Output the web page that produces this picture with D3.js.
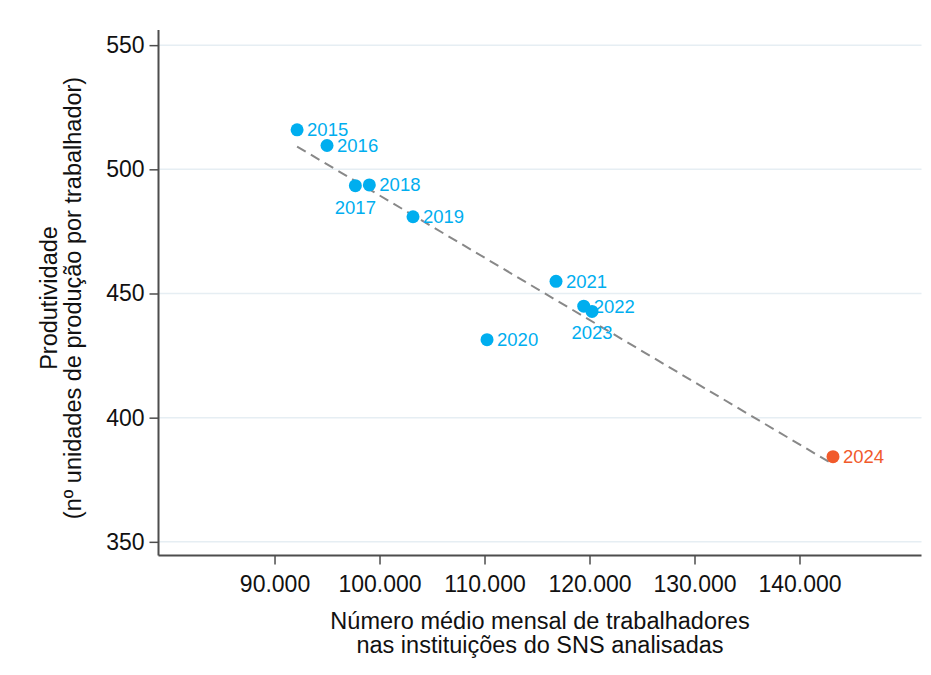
<!DOCTYPE html>
<html lang="pt">
<head>
    <meta charset="UTF-8">
    <title>Produtividade vs trabalhadores</title>
    <script src="https://d3js.org/d3.v7.min.js"></script>
    <style>
        body { margin: 0; background: #fff; }
        text { font-family: "Liberation Sans", Arial, sans-serif; }
    </style>
</head>
<body>
    <script>
        // Data
        const years = ['2015', '2016', '2017', '2018', '2019', '2020', '2021', '2022', '2023', '2024'];
        const workers = [92150, 95000, 97700, 99030, 103190, 110240, 116810, 119450, 120240, 143190];
        const productivity = [515.9, 509.6, 493.4, 493.7, 480.9, 431.4, 454.9, 444.9, 442.8, 384.3];
        const xTicks = [90000, 100000, 110000, 120000, 130000, 140000];
        const yTicks = [350, 400, 450, 500, 550];

        const width = 931;
        const height = 675;
        const svg = d3.select('body')
            .append('svg')
            .attr('width', width)
            .attr('height', height);

        const mLeft = 158.5, mRight = 921.5, mTop = 30, mBottom = 555.5;

        const x = d3.scaleLinear()
            .domain([78950, 151620])
            .range([mLeft, mRight]);
        const y = d3.scaleLinear()
            .domain([344.5, 556.1])
            .range([mBottom, mTop]);

        // gridlines
        svg.append('g')
            .selectAll('line')
            .data(yTicks)
            .enter()
            .append('line')
            .attr('x1', mLeft)
            .attr('x2', mRight)
            .attr('y1', d => y(d))
            .attr('y2', d => y(d))
            .attr('stroke', '#e6eef3')
            .attr('stroke-width', 1.5);

        // axes
        const fmt = d => d3.format(',')(d).replace(/,/g, '.');
        const xAxis = svg.append('g')
            .attr('transform', `translate(0,${mBottom})`)
            .call(d3.axisBottom(x).tickValues(xTicks).tickFormat(fmt).tickSize(9).tickPadding(11));
        const yAxis = svg.append('g')
            .attr('transform', `translate(${mLeft},0)`)
            .call(d3.axisLeft(y).tickValues(yTicks).tickSize(9).tickPadding(5));

        [xAxis, yAxis].forEach(g => {
            g.select('.domain').attr('stroke', '#4d4d4d').attr('stroke-width', 2);
            g.selectAll('.tick line').attr('stroke', '#4d4d4d').attr('stroke-width', 1.5);
            g.selectAll('.tick text')
                .attr('fill', '#111')
                .style('font-size', '23px')
                .style('font-family', '"Liberation Sans", Arial, sans-serif');
        });
        xAxis.select('.domain').attr('d', `M${mLeft},0H${mRight}`);
        yAxis.select('.domain').attr('d', `M0,${mTop}V${mBottom}`);

        // linear trend line (least squares)
        const pts = years.map((yr, i) => ({ year: yr, x: workers[i], y: productivity[i] }));
        const mx = d3.mean(workers), my = d3.mean(productivity);
        const slope = d3.sum(pts, p => (p.x - mx) * (p.y - my)) / d3.sum(pts, p => (p.x - mx) ** 2);
        const icpt = my - slope * mx;
        const [x0, x1] = d3.extent(workers);
        svg.append('line')
            .attr('x1', x(x0))
            .attr('y1', y(icpt + slope * x0))
            .attr('x2', x(x1))
            .attr('y2', y(icpt + slope * x1))
            .attr('stroke', '#888')
            .attr('stroke-width', 2)
            .attr('stroke-dasharray', '10,6');

        // points
        const color = d => d.year === '2024' ? '#f15a2b' : '#00aeef';
        svg.selectAll('circle')
            .data(pts)
            .enter()
            .append('circle')
            .attr('cx', d => x(d.x))
            .attr('cy', d => y(d.y))
            .attr('r', 6.5)
            .attr('fill', color);

        // labels: 2017 and 2023 sit below the point
        const below = ['2017', '2023'];
        svg.selectAll('text.lbl')
            .data(pts)
            .enter()
            .append('text')
            .attr('class', 'lbl')
            .attr('x', d => below.includes(d.year) ? x(d.x) : x(d.x) + 10)
            .attr('y', d => below.includes(d.year) ? y(d.y) + 28 : y(d.y) + 6.5)
            .attr('text-anchor', d => below.includes(d.year) ? 'middle' : 'start')
            .attr('fill', color)
            .style('font-size', '18.5px')
            .text(d => d.year);

        // axis titles
        const xt = svg.append('text')
            .attr('text-anchor', 'middle')
            .attr('fill', '#111')
            .style('font-size', '23.5px');
        xt.append('tspan').attr('x', 540).attr('y', 629).text('Número médio mensal de trabalhadores');
        xt.append('tspan').attr('x', 540).attr('y', 653).text('nas instituições do SNS analisadas');

        const yt = svg.append('text')
            .attr('text-anchor', 'middle')
            .attr('fill', '#111')
            .attr('transform', 'translate(0,298) rotate(-90)')
            .style('font-size', '23.5px');
        yt.append('tspan').attr('x', 0).attr('y', 57).text('Produtividade');
        yt.append('tspan').attr('x', 0).attr('y', 81).text('(nº unidades de produção por trabalhador)');
    </script>
</body>
</html>
